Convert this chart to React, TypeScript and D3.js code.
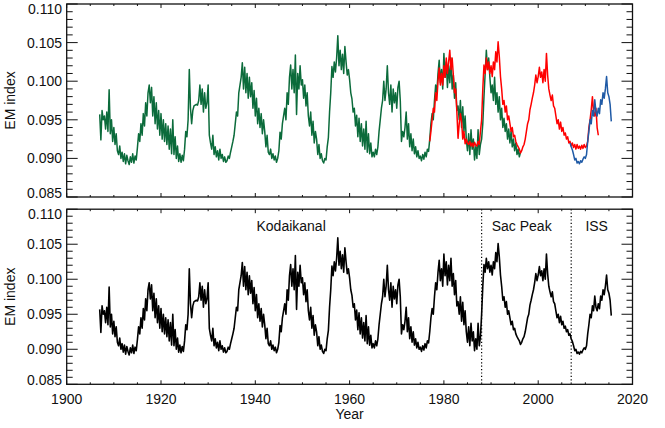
import React from "react";
import * as d3 from "d3";

// EM index series, quarterly samples
const kodaiStart = 1907;
const sacPeakStart = 1977;
const issStart = 2006.75;
const sampleStep = 0.25;

const kodaikanal: number[] = [
  0.0957, 0.0924, 0.0962, 0.095, 0.0955, 0.0938, 0.096, 0.0935, 0.0989, 0.0932, 0.095, 0.0922,
  0.094, 0.0918, 0.0932, 0.091, 0.0905, 0.0916, 0.09, 0.0908, 0.0896, 0.0906, 0.0893, 0.0904,
  0.0897, 0.0892, 0.0902, 0.0895, 0.0906, 0.0894, 0.0903, 0.0898, 0.0914, 0.0932, 0.0922, 0.0945,
  0.093, 0.0958, 0.0942, 0.0972, 0.0955, 0.0985, 0.0995, 0.0972, 0.0992, 0.0955, 0.098, 0.0945,
  0.0972, 0.0938, 0.0962, 0.093, 0.0958, 0.0925, 0.095, 0.0922, 0.0945, 0.0918, 0.0942, 0.0912,
  0.0938, 0.0906, 0.095, 0.0905, 0.0928, 0.09, 0.0916, 0.0896, 0.0906, 0.0895, 0.0904, 0.0897,
  0.0912, 0.0935, 0.0928, 0.095, 0.1015, 0.0965, 0.0945, 0.0962, 0.0968, 0.0969, 0.097, 0.0969,
  0.0975, 0.0995, 0.097, 0.099, 0.096, 0.0985, 0.0965, 0.0972, 0.0995, 0.093, 0.092, 0.0912,
  0.093, 0.0905, 0.0915, 0.0902, 0.091, 0.0898, 0.0912, 0.09, 0.0905, 0.0896, 0.0902, 0.0895,
  0.0897, 0.0903, 0.09, 0.0908, 0.0915, 0.0922, 0.093, 0.0945, 0.096, 0.0955, 0.0985, 0.0995,
  0.1005, 0.1024, 0.099, 0.1018, 0.0985, 0.101, 0.0978, 0.1005, 0.098, 0.0998, 0.0965, 0.0988,
  0.0955, 0.0978, 0.0945, 0.0965, 0.094, 0.0958, 0.0932, 0.095, 0.0935, 0.0915, 0.093, 0.0908,
  0.0905, 0.0912, 0.09, 0.0906, 0.0898, 0.0903, 0.0895, 0.09, 0.091, 0.0934, 0.0925, 0.0945,
  0.0955, 0.0965, 0.095, 0.0985, 0.097, 0.1005, 0.1021, 0.099, 0.1015, 0.0985, 0.1034, 0.0957,
  0.101, 0.099, 0.102, 0.0995, 0.1002, 0.0978, 0.0995, 0.0968, 0.0985, 0.0955, 0.0942, 0.096,
  0.093, 0.0948, 0.092, 0.0935, 0.0925, 0.0905, 0.0918, 0.09, 0.0906, 0.0897, 0.0894, 0.09,
  0.0898, 0.0915, 0.0927, 0.096, 0.0985, 0.1019, 0.1005, 0.1025, 0.1012, 0.103, 0.1059, 0.102,
  0.104, 0.1015, 0.1035, 0.101, 0.1045, 0.1025, 0.1008, 0.1015, 0.1002, 0.0985, 0.0977, 0.096,
  0.0965, 0.0942, 0.0956, 0.0928, 0.0952, 0.0922, 0.0945, 0.0916, 0.0938, 0.0912, 0.0948, 0.0908,
  0.0932, 0.0906, 0.092, 0.0902, 0.0908, 0.0902, 0.0912, 0.0905, 0.0915, 0.0935, 0.095, 0.0965,
  0.0975, 0.1, 0.0975, 0.099, 0.102, 0.0985, 0.097, 0.0995, 0.096, 0.099, 0.0972, 0.0985,
  0.0965, 0.0992, 0.1, 0.0975, 0.0922, 0.0935, 0.0928, 0.094, 0.096, 0.0925, 0.0945, 0.0915,
  0.0932, 0.091, 0.0925, 0.0906, 0.0915, 0.0902, 0.091, 0.09, 0.0903, 0.0897, 0.0905, 0.0899,
  0.0908, 0.0902, 0.0912, 0.0909, 0.0925, 0.0945, 0.0958, 0.095, 0.0975, 0.0995, 0.0985, 0.101,
  0.1027, 0.0998, 0.1015, 0.099, 0.1036, 0.1005, 0.1025, 0.0992, 0.102, 0.0998, 0.103, 0.099,
  0.1008, 0.0978, 0.0998, 0.0962, 0.0968, 0.095, 0.0975, 0.094, 0.0967, 0.0935, 0.0955, 0.0925,
  0.091, 0.0932, 0.0905, 0.0937, 0.0912, 0.0925, 0.0898, 0.0915, 0.09, 0.0937, 0.0905, 0.0918,
  0.0925, 0.0945, 0.098, 0.101, 0.104, 0.1015, 0.103, 0.1005, 0.0985, 0.0995, 0.0975, 0.1005,
  0.097, 0.0985, 0.096, 0.098, 0.095, 0.0965, 0.094, 0.0952, 0.0935, 0.0945, 0.0925, 0.0938,
  0.092, 0.0935, 0.0915, 0.0925, 0.091, 0.092, 0.0905, 0.0912, 0.0902, 0.0908,
];

const sacPeak: number[] = [
  0.0922, 0.0935, 0.095, 0.0965, 0.096, 0.0985, 0.0975, 0.1, 0.1017, 0.0995, 0.101, 0.0995,
  0.102, 0.1005, 0.103, 0.101, 0.1025, 0.104, 0.1015, 0.103, 0.1008, 0.0985, 0.099, 0.096,
  0.0926, 0.0945, 0.0958, 0.0948, 0.0925, 0.0935, 0.0919, 0.0925, 0.092, 0.0918, 0.0922, 0.0916,
  0.092, 0.0915, 0.0921, 0.0917, 0.0916, 0.0922, 0.0918, 0.0935, 0.095, 0.099, 0.1021, 0.101,
  0.103, 0.1015, 0.1025, 0.101, 0.102, 0.1006, 0.1025, 0.1015, 0.1038, 0.1025, 0.1051, 0.1032,
  0.1006, 0.099, 0.097, 0.0975, 0.096, 0.0968, 0.095, 0.0955, 0.0945, 0.0935, 0.094, 0.0928,
  0.093, 0.0922, 0.0918, 0.0915, 0.0912, 0.0907, 0.091, 0.0915, 0.0918, 0.0925, 0.0935, 0.0945,
  0.095, 0.0963, 0.097, 0.0978, 0.0985, 0.0995, 0.1008, 0.0998, 0.1006, 0.1018, 0.1005, 0.1012,
  0.0998, 0.1015, 0.1, 0.1036, 0.1008, 0.099, 0.0982, 0.0975, 0.0982, 0.0968, 0.0965, 0.0955,
  0.0945, 0.095, 0.0938, 0.0947, 0.0935, 0.094, 0.093, 0.0933, 0.0925, 0.0928, 0.092, 0.0922,
  0.0916, 0.092, 0.0914, 0.0918, 0.0912, 0.0918, 0.0913, 0.0916, 0.0912, 0.0917, 0.0913, 0.0918,
  0.0914, 0.0916, 0.0922, 0.094, 0.095, 0.0963, 0.098, 0.096, 0.0955, 0.0965, 0.094, 0.093,
];

const iss: number[] = [
  0.092, 0.0915, 0.0911, 0.0905, 0.0898, 0.09, 0.0894, 0.0896, 0.0893, 0.0897, 0.0895, 0.0899,
  0.0902, 0.09, 0.0905, 0.0922, 0.0935, 0.095, 0.0945, 0.0962, 0.0955, 0.0976, 0.096, 0.0955,
  0.0965, 0.0958, 0.0976, 0.097, 0.0985, 0.0978, 0.099, 0.1006, 0.0985, 0.098, 0.097, 0.0948,
];

const composite1 = 1988; // Kodaikanal -> Sac Peak
const composite2 = 2007; // Sac Peak -> ISS

const xTicksMajor = [1900, 1920, 1940, 1960, 1980, 2000, 2020];
const yTicksMajor = [0.085, 0.09, 0.095, 0.1, 0.105, 0.11];
const labels = [
  { text: "Kodaikanal", year: 1947.6 },
  { text: "Sac Peak", year: 1996.5 },
  { text: "ISS", year: 2012.4 },
];

type Pt = { year: number; v: number };
const toPts = (arr: number[], start: number): Pt[] =>
  arr.map((v, i) => ({ year: start + i * sampleStep, v }));

const FONT = "'Liberation Sans', Arial, Helvetica, sans-serif";

export default function App() {
  const W = 665, H = 428;
  const left = 66.7, right = 632.5;
  const x = d3.scaleLinear().domain([1900, 2020]).range([left, right]);
  const panels = [
    { top: 4, bottom: 197 },
    { top: 209.2, bottom: 384.3 },
  ];
  const ys = panels.map((p) => d3.scaleLinear().domain([0.085, 0.11]).range([p.bottom, p.top]));

  const kod = toPts(kodaikanal, kodaiStart);
  const sac = toPts(sacPeak, sacPeakStart);
  const is = toPts(iss, issStart);
  const comp = [
    ...kod.filter((d) => d.year < composite1),
    ...sac.filter((d) => d.year >= composite1 && d.year < composite2),
    ...is.filter((d) => d.year >= composite2),
  ];

  const lineFor = (y: d3.ScaleLinear<number, number>) =>
    d3.line<Pt>().x((d) => x(d.year)).y((d) => y(d.v));

  const minorX = d3.range(1900, 2021, 5);
  const minorY = d3.range(85, 111, 1).map((d) => d / 1000);

  const renderFrame = (pi: number) => {
    const p = panels[pi];
    const y = ys[pi];
    const yMajLen = 11, yMinLen = 6;
    const xMajLen = 4, xMinLen = 2;
    const els: React.ReactNode[] = [];
    minorY.forEach((v, i) => {
      const isMaj = yTicksMajor.some((m) => Math.abs(m - v) < 1e-9);
      const L = isMaj ? yMajLen : yMinLen;
      const yy = y(v);
      els.push(<line key={`yl${i}`} x1={left} x2={left + L} y1={yy} y2={yy} stroke="#111" strokeWidth={1} />);
      els.push(<line key={`yr${i}`} x1={right} x2={right - L} y1={yy} y2={yy} stroke="#111" strokeWidth={1} />);
    });
    minorX.forEach((yr, i) => {
      const isMaj = xTicksMajor.includes(yr);
      const L = isMaj ? xMajLen : xMinLen;
      const xx = x(yr);
      els.push(<line key={`xb${i}`} x1={xx} x2={xx} y1={p.bottom} y2={p.bottom - L} stroke="#111" strokeWidth={1} />);
      els.push(<line key={`xt${i}`} x1={xx} x2={xx} y1={p.top} y2={p.top + L} stroke="#111" strokeWidth={1} />);
    });
    yTicksMajor.forEach((v, i) => {
      const cy = Math.max(p.top + 4.5, Math.min(p.bottom - 4.5, y(v)));
      els.push(
        <text key={`yt${i}`} x={62} y={cy} dy="0.36em" textAnchor="end" fontSize={14} fontFamily={FONT} fill="#111">
          {d3.format(".3f")(v)}
        </text>
      );
    });
    els.push(
      <rect key="frame" x={left} y={p.top} width={right - left} height={p.bottom - p.top} fill="none" stroke="#111" strokeWidth={1.3} />
    );
    els.push(
      <text
        key="ylab"
        transform={`translate(14.5,${(p.top + p.bottom) / 2}) rotate(-90)`}
        textAnchor="middle"
        fontSize={14}
        fontFamily={FONT}
        fill="#111"
      >
        EM index
      </text>
    );
    return els;
  };

  return (
    <svg width={W} height={H} style={{ position: "absolute", left: 0, top: 0, background: "#fff" }}>
      <rect width={W} height={H} fill="#fff" />
      <path d={lineFor(ys[0])(kod) || ""} fill="none" stroke="#0b6b3b" strokeWidth={1.5} strokeLinejoin="round" />
      <path d={lineFor(ys[0])(sac) || ""} fill="none" stroke="#ff0000" strokeWidth={1.5} strokeLinejoin="round" />
      <path d={lineFor(ys[0])(is) || ""} fill="none" stroke="#1f5aa6" strokeWidth={1.5} strokeLinejoin="round" />
      {renderFrame(0)}
      <path d={lineFor(ys[1])(comp) || ""} fill="none" stroke="#000" strokeWidth={1.6} strokeLinejoin="round" />
      {[composite1, composite2].map((yr) => (
        <line key={yr} x1={x(yr)} x2={x(yr)} y1={panels[1].top} y2={panels[1].bottom} stroke="#000" strokeWidth={1.2} strokeDasharray="1.2,2.2" />
      ))}
      {labels.map((l) => (
        <text key={l.text} x={x(l.year)} y={230.5} textAnchor="middle" fontSize={14} fontFamily={FONT} fill="#111">
          {l.text}
        </text>
      ))}
      {renderFrame(1)}
      {xTicksMajor.map((yr) => (
        <text key={yr} x={x(yr)} y={404.3} textAnchor="middle" fontSize={14} fontFamily={FONT} fill="#111">
          {yr}
        </text>
      ))}
      <text x={x(1960)} y={419} textAnchor="middle" fontSize={14} fontFamily={FONT} fill="#111">
        Year
      </text>
    </svg>
  );
}
